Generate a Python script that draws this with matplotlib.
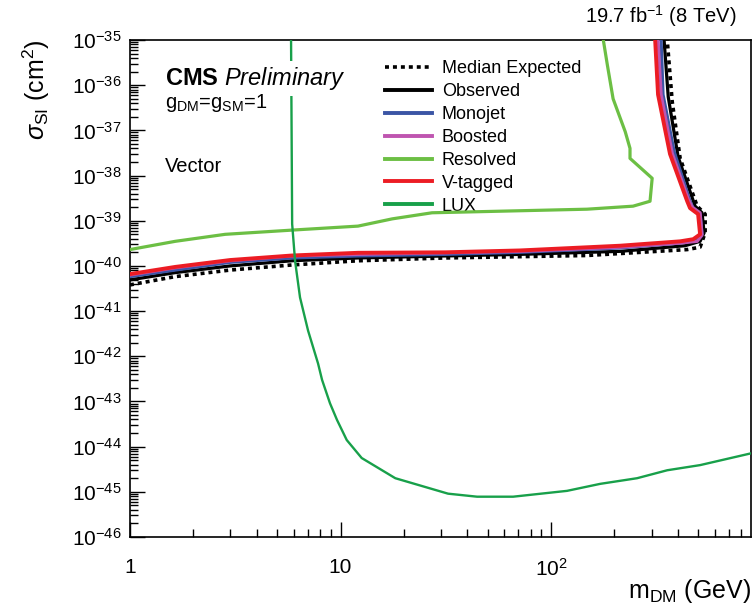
import matplotlib
matplotlib.use("Agg")
import matplotlib.pyplot as plt
from matplotlib.ticker import FixedLocator, LogLocator, NullFormatter

plt.rcParams["font.family"] = ["Liberation Sans", "DejaVu Sans"]
plt.rcParams["mathtext.fontset"] = "custom"
plt.rcParams["mathtext.rm"] = "Liberation Sans"
plt.rcParams["mathtext.it"] = "Liberation Sans:italic"
plt.rcParams["mathtext.bf"] = "Liberation Sans:bold"

# Limits in (m_DM [GeV], sigma_SI [cm^2])
median_m = [1.0, 1.64, 2.99, 5.88, 12.1, 31.4, 148, 443, 510, 539, 539, 494, 410, 376, 356, 345]
median_s = [3.8e-41, 5.8e-41, 8.1e-41, 1.05e-40, 1.3e-40, 1.5e-40, 1.7e-40, 2.3e-40, 2.6e-40,
            5.4e-40, 1.4e-39, 2.1e-39, 2.4e-38, 4.3e-37, 1e-35, 1e-34]

observed_m = [1.0, 1.64, 2.99, 5.88, 12.1, 31.4, 71.2, 213, 433, 510, 533, 521, 483, 401, 360, 344, 335]
observed_s = [4.9e-41, 7.1e-41, 1.0e-40, 1.3e-40, 1.5e-40, 1.66e-40, 1.8e-40, 2.1e-40, 2.8e-40,
              3.5e-40, 5.4e-40, 1.5e-39, 2.1e-39, 2.6e-38, 5.5e-37, 1e-35, 1e-34]

monojet_m = [1.0, 1.64, 2.99, 5.88, 12.1, 31.4, 71.2, 213, 410, 483, 521, 510, 473, 457, 384, 340, 333, 325]
monojet_s = [5.8e-41, 8.1e-41, 1.2e-40, 1.5e-40, 1.66e-40, 1.8e-40, 2.0e-40, 2.5e-40, 3.2e-40,
             3.7e-40, 5.0e-40, 1.4e-39, 1.9e-39, 2.7e-39, 3.4e-38, 6.2e-37, 1e-35, 1e-34]

boosted_m = [1.0, 1.64, 2.99, 5.88, 12.1, 31.4, 71.2, 213, 410, 494, 521, 510, 468, 448, 376, 333, 322, 315]
boosted_s = [6.3e-41, 9.1e-41, 1.3e-40, 1.66e-40, 1.8e-40, 1.95e-40, 2.1e-40, 2.6e-40, 3.2e-40,
             3.5e-40, 4.8e-40, 1.5e-39, 2.0e-39, 3.0e-39, 3.1e-38, 6.2e-37, 1e-35, 1e-34]

vtag_m = [1.0, 1.64, 2.99, 5.88, 12.1, 31.4, 71.2, 213, 410, 473, 510, 499, 457, 443, 367, 322, 312, 305]
vtag_s = [6.6e-41, 9.5e-41, 1.35e-40, 1.7e-40, 1.95e-40, 2.0e-40, 2.2e-40, 2.8e-40, 3.5e-40,
          3.9e-40, 5.0e-40, 1.4e-39, 1.9e-39, 2.7e-39, 3.0e-38, 6.2e-37, 1e-35, 1e-34]

resolved_m = [1.0, 1.64, 2.83, 5.88, 12.1, 17.6, 27.2, 49.6, 148, 245, 295, 302, 237, 237, 225,
              197, 185, 177, 172]
resolved_s = [2.3e-40, 3.5e-40, 5.0e-40, 6.2e-40, 7.6e-40, 1.1e-39, 1.5e-39, 1.6e-39, 1.8e-39,
              2.1e-39, 2.7e-39, 8.7e-39, 2.4e-38, 4.0e-38, 9.3e-38, 5.0e-37, 2.8e-36, 1e-35, 1e-34]

lux_m = [5.82, 5.82, 5.89, 6.08, 6.42, 7.01, 7.82, 8.17, 8.91, 9.62, 10.7, 12.6, 18.2, 32.4, 44.5,
         66.0, 119, 171, 256, 356, 510, 901, 1000]
lux_s = [1e-34, 1e-35, 8.5e-40, 1.3e-40, 2.0e-41, 3.7e-42, 6.9e-43, 3.0e-43, 9.1e-44, 3.9e-44,
         1.4e-44, 5.6e-45, 2.0e-45, 9.1e-46, 7.8e-46, 7.8e-46, 1.05e-45, 1.5e-45, 2.0e-45, 3.0e-45,
         3.9e-45, 7.2e-45, 8.5e-45]

xtick_vals = [1, 10, 100]
xtick_labels = ["1", "10", "$10^{2}$"]
ytick_exps = list(range(-46, -34))

fig = plt.figure(figsize=(7.52, 6.16), dpi=100)
ax = fig.add_axes([130 / 752, 1 - 537 / 616, 621 / 752, 497 / 616])

h_med, = ax.plot(median_m, median_s, color="black", lw=2.6, linestyle=(0, (1.1, 1.1)),
                 label="Median Expected", zorder=2)
h_obs, = ax.plot(observed_m, observed_s, color="black", lw=2.3, label="Observed", zorder=3)
h_mono, = ax.plot(monojet_m, monojet_s, color="#3b55a5", lw=2.3, label="Monojet", zorder=4)
h_boost, = ax.plot(boosted_m, boosted_s, color="#bf55b0", lw=2.3, label="Boosted", zorder=5)
h_res, = ax.plot(resolved_m, resolved_s, color="#6cbf44", lw=2.3, label="Resolved", zorder=6)
h_vtag, = ax.plot(vtag_m, vtag_s, color="#ec1c24", lw=2.8, label="V-tagged", zorder=7)
h_lux, = ax.plot(lux_m, lux_s, color="#18a04a", lw=1.7, label="LUX", zorder=8)

ax.set_xscale("log")
ax.set_yscale("log")
ax.set_xlim(1, 890)
ax.set_ylim(1e-46, 1e-35)

ax.xaxis.set_major_locator(FixedLocator(xtick_vals))
ax.set_xticklabels(xtick_labels)
ax.xaxis.set_minor_locator(LogLocator(base=10, subs=range(2, 10)))
ax.xaxis.set_minor_formatter(NullFormatter())
ax.yaxis.set_major_locator(FixedLocator([10.0 ** e for e in ytick_exps]))
ax.set_yticklabels([f"$10^{{{e}}}$" for e in ytick_exps])
ax.yaxis.set_minor_locator(LogLocator(base=10, subs=range(2, 10), numticks=50))
ax.yaxis.set_minor_formatter(NullFormatter())

ax.tick_params(which="both", direction="in", labelsize=15, colors="black")
ax.tick_params(axis="x", which="major", length=11, width=1.0, pad=15)
ax.tick_params(axis="x", which="minor", length=6, width=1.0)
ax.tick_params(axis="y", which="major", length=11, width=1.0, pad=6)
ax.tick_params(axis="y", which="minor", length=6, width=1.0)
for sp in ax.spines.values():
    sp.set_linewidth(1.2)

ax.set_xlabel(r"m$_{\rm DM}$ (GeV)", fontsize=18, loc="right", labelpad=-2)
ax.set_ylabel(r"$\sigma_{\rm SI}$ (cm$^{2}$)", fontsize=18, loc="top", labelpad=14)

fig.text(737 / 752, 1 - 23 / 616, r"19.7 fb$^{-1}$ (8 TeV)", ha="right", va="baseline", fontsize=14.5)

ax.text(165 / 752, 1 - 85 / 616, r"$\bf{CMS}$ $\it{Preliminary}$", transform=fig.transFigure,
        fontsize=17, va="baseline", ha="left", zorder=10,
        bbox=dict(facecolor="white", edgecolor="none", pad=3))
fig.text(165 / 752, 1 - 108 / 616, r"g$_{\rm DM}$=g$_{\rm SM}$=1", fontsize=14.5, va="baseline")
fig.text(165 / 752, 1 - 172 / 616, "Vector", fontsize=14.5, va="baseline")

leg = ax.legend(handles=[h_med, h_obs, h_mono, h_boost, h_res, h_vtag, h_lux],
                loc="upper left", bbox_to_anchor=(385 / 752, 1 - 60 / 616),
                bbox_transform=fig.transFigure,
                frameon=False, fontsize=13, handlelength=2.6, handletextpad=0.55, labelspacing=0.33,
                borderaxespad=0, borderpad=0)
for ln in leg.get_lines()[1:]:
    ln.set_linewidth(2.8)

fig.savefig("out.png", dpi=100)
